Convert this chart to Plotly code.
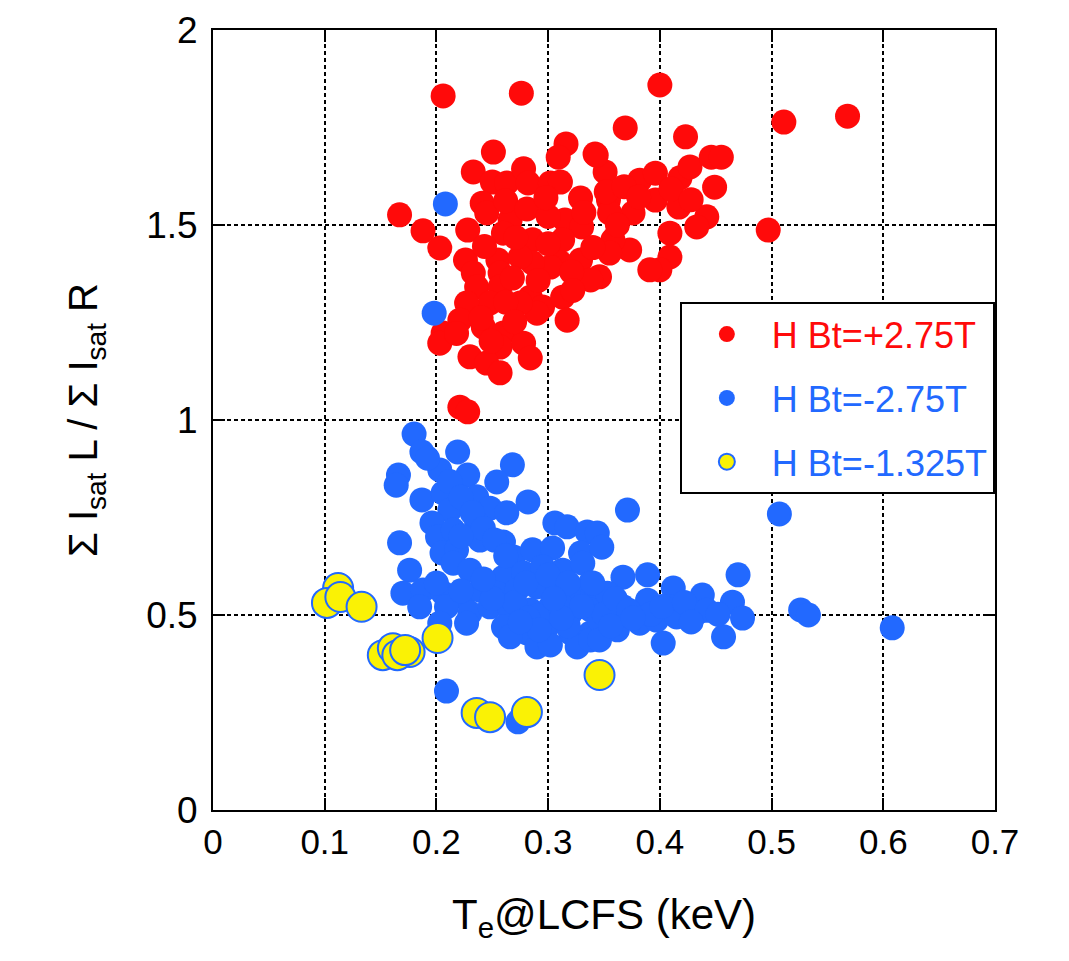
import plotly.graph_objects as go

# ---- data (Te@LCFS in keV, ratio) ----
red_x = [0.206, 0.276, 0.400, 0.511, 0.568, 0.369, 0.423, 0.251, 0.316, 0.342,
         0.351, 0.233, 0.250, 0.263, 0.278, 0.282, 0.302, 0.311, 0.309, 0.329,
         0.354, 0.382, 0.396, 0.418, 0.427, 0.446, 0.455, 0.449, 0.396, 0.417,
         0.442, 0.376, 0.409, 0.433, 0.373, 0.409, 0.400, 0.346, 0.497, 0.241,
         0.167, 0.188, 0.203, 0.228, 0.245, 0.266, 0.286, 0.260, 0.255, 0.226,
         0.315, 0.330, 0.313, 0.355, 0.358, 0.355, 0.329, 0.338, 0.311, 0.302,
         0.286, 0.275, 0.257, 0.233, 0.236, 0.257, 0.284, 0.295, 0.313, 0.317,
         0.290, 0.275, 0.248, 0.227, 0.206, 0.203, 0.221, 0.242, 0.260, 0.257,
         0.278, 0.284, 0.230, 0.245, 0.257, 0.221, 0.228, 0.391, 0.343,
         0.262, 0.281, 0.300, 0.332, 0.340, 0.300, 0.271, 0.243, 0.262, 0.291,
         0.321, 0.352, 0.368, 0.381, 0.410, 0.428, 0.362, 0.298, 0.240, 0.218,
         0.249, 0.270, 0.322, 0.268]
red_y = [1.831, 1.838, 1.859, 1.764, 1.779, 1.749, 1.726, 1.687, 1.708, 1.682,
         1.636, 1.636, 1.610, 1.608, 1.644, 1.608, 1.608, 1.610, 1.674, 1.569,
         1.564, 1.615, 1.633, 1.621, 1.649, 1.674, 1.674, 1.597, 1.564, 1.546,
         1.521, 1.531, 1.479, 1.495, 1.436, 1.418, 1.385, 1.367, 1.487, 1.556,
         1.526, 1.485, 1.441, 1.487, 1.531, 1.513, 1.462, 1.479, 1.410, 1.410,
         1.513, 1.495, 1.462, 1.531, 1.462, 1.428, 1.410, 1.359, 1.403, 1.392,
         1.403, 1.418, 1.377, 1.377, 1.341, 1.341, 1.315, 1.290, 1.315, 1.256,
         1.274, 1.300, 1.300, 1.300, 1.223, 1.197, 1.256, 1.238, 1.223, 1.187,
         1.197, 1.159, 1.162, 1.146, 1.121, 1.033, 1.021, 1.385, 1.679,
         1.562, 1.541, 1.522, 1.532, 1.442, 1.452, 1.468, 1.445, 1.302, 1.358,
         1.380, 1.585, 1.598, 1.572, 1.592, 1.565, 1.500, 1.570, 1.262, 1.222,
         1.202, 1.252, 1.332, 1.364]

blue_x = [0.208, 0.198, 0.209, 0.273, 0.371, 0.507, 0.608, 0.526, 0.533, 0.470,
          0.465, 0.474, 0.457, 0.403, 0.180, 0.187, 0.219, 0.268, 0.166, 0.203,
          0.228, 0.254, 0.164, 0.187, 0.206, 0.236, 0.282, 0.248, 0.212, 0.263,
          0.196, 0.236, 0.306, 0.317, 0.335, 0.167, 0.201, 0.215, 0.239, 0.205,
          0.218, 0.260, 0.269, 0.286, 0.304, 0.329, 0.176, 0.215, 0.230, 0.260,
          0.278, 0.295, 0.313, 0.331, 0.170, 0.188, 0.206, 0.224, 0.239, 0.254,
          0.272, 0.290, 0.308, 0.326, 0.340, 0.185, 0.209, 0.230, 0.248, 0.266,
          0.284, 0.302, 0.320, 0.338, 0.227, 0.260, 0.281, 0.299, 0.320, 0.338,
          0.266, 0.290, 0.302, 0.326, 0.338, 0.203, 0.344, 0.348, 0.367, 0.389,
          0.412, 0.438, 0.433, 0.409, 0.389, 0.367, 0.353, 0.346, 0.362, 0.382,
          0.397, 0.415, 0.346, 0.338,
          0.300, 0.318, 0.350, 0.290, 0.310, 0.330, 0.360, 0.270, 0.250, 0.222,
          0.242, 0.200, 0.280, 0.300, 0.340, 0.372, 0.392, 0.402, 0.422, 0.442,
          0.452, 0.428, 0.192, 0.212, 0.222, 0.232, 0.242, 0.252, 0.262, 0.222,
          0.282, 0.312, 0.292, 0.356, 0.376, 0.318, 0.305, 0.275]
blue_y = [1.554, 1.274, 0.305, 0.226, 0.769, 0.759, 0.467, 0.513, 0.500, 0.603,
          0.533, 0.492, 0.444, 0.428, 0.964, 0.918, 0.918, 0.885, 0.859, 0.872,
          0.859, 0.841, 0.833, 0.795, 0.813, 0.803, 0.790, 0.774, 0.769, 0.762,
          0.736, 0.736, 0.736, 0.726, 0.713, 0.685, 0.700, 0.718, 0.692, 0.659,
          0.667, 0.687, 0.649, 0.667, 0.672, 0.659, 0.615, 0.633, 0.615, 0.597,
          0.608, 0.623, 0.615, 0.633, 0.556, 0.564, 0.556, 0.546, 0.564, 0.556,
          0.564, 0.572, 0.556, 0.556, 0.556, 0.521, 0.521, 0.505, 0.521, 0.513,
          0.513, 0.521, 0.505, 0.513, 0.479, 0.469, 0.454, 0.469, 0.454, 0.454,
          0.444, 0.418, 0.423, 0.418, 0.436, 0.479, 0.710, 0.674, 0.597, 0.603,
          0.569, 0.551, 0.505, 0.521, 0.538, 0.521, 0.556, 0.487, 0.462, 0.479,
          0.487, 0.495, 0.436, 0.582,
          0.482, 0.472, 0.502, 0.498, 0.532, 0.522, 0.542, 0.532, 0.542, 0.562,
          0.592, 0.582, 0.582, 0.602, 0.582, 0.512, 0.502, 0.522, 0.532, 0.512,
          0.502, 0.482, 0.902, 0.842, 0.802, 0.762, 0.722, 0.692, 0.652, 0.702,
          0.492, 0.492, 0.462, 0.472, 0.492, 0.582, 0.542, 0.482]

yellow_x = [0.112, 0.102, 0.114, 0.133, 0.152, 0.161, 0.176, 0.165, 0.172,
            0.201, 0.236, 0.248, 0.281, 0.346]
yellow_y = [0.569, 0.531, 0.546, 0.521, 0.397, 0.415, 0.405, 0.397, 0.410,
            0.441, 0.249, 0.238, 0.251, 0.346]

series_names = ["H Bt=+2.75T", "H Bt=-2.75T", "H Bt=-1.325T"]
x_ticks = [0, 0.1, 0.2, 0.3, 0.4, 0.5, 0.6, 0.7]
y_ticks = [0, 0.5, 1, 1.5, 2]

RED = "#FF0A0A"
BLUE = "#2269FF"
YELLOW = "#FAF205"
FONT = "Liberation Sans, Arial, sans-serif"

fig = go.Figure()
fig.add_trace(go.Scatter(
    x=red_x, y=red_y, mode="markers", legendgroup="a",
    name=f'<span style="color:{RED}">{series_names[0]}</span>',
    marker=dict(size=25, color=RED, line=dict(width=0)),
))
fig.add_trace(go.Scatter(
    x=blue_x, y=blue_y, mode="markers", legendgroup="b",
    name=f'<span style="color:{BLUE}">{series_names[1]}</span>',
    marker=dict(size=25, color=BLUE, line=dict(width=0)),
))
fig.add_trace(go.Scatter(
    x=yellow_x, y=yellow_y, mode="markers", legendgroup="c",
    name=f'<span style="color:{BLUE}">{series_names[2]}</span>',
    marker=dict(size=30, color=YELLOW, line=dict(width=2, color=BLUE)),
))

axis_common = dict(
    showline=True, linecolor="black", linewidth=2, mirror="ticks",
    ticks="inside", ticklen=12, tickwidth=2, tickcolor="black",
    showgrid=True, gridcolor="black", gridwidth=1.5, griddash="4px,3px",
    zeroline=False,
)

fig.update_layout(
    width=1069, height=961,
    margin=dict(l=213, r=74, t=30, b=151, autoexpand=False),
    plot_bgcolor="white", paper_bgcolor="white",
    showlegend=True,
    legend=dict(
        x=0.597, y=0.651, xanchor="left", yanchor="top",
        bgcolor="white", bordercolor="black", borderwidth=2,
        font=dict(family=FONT, size=36),
        tracegroupgap=14, traceorder="grouped", itemsizing="trace",
        itemwidth=80,
    ),
    xaxis=dict(
        range=[0, 0.7], tickvals=x_ticks, ticktext=[str(v) for v in x_ticks],
        tickfont=dict(family=FONT, size=35, color="black"),
        title=dict(text="T<sub>e</sub>@LCFS (keV)",
                   font=dict(family=FONT, size=42, color="black"), standoff=40),
        **axis_common,
    ),
    yaxis=dict(
        range=[0, 2], tickvals=y_ticks, ticktext=["0", "0.5", "1", "1.5", "2"],
        tickfont=dict(family=FONT, size=37, color="black"),
        ticklabelstandoff=6,
        title=dict(text="Σ I<sub>sat</sub> L / Σ I<sub>sat</sub> R",
                   font=dict(family=FONT, size=40, color="black"), standoff=36),
        **axis_common,
    ),
)

fig.write_html("out.html")
